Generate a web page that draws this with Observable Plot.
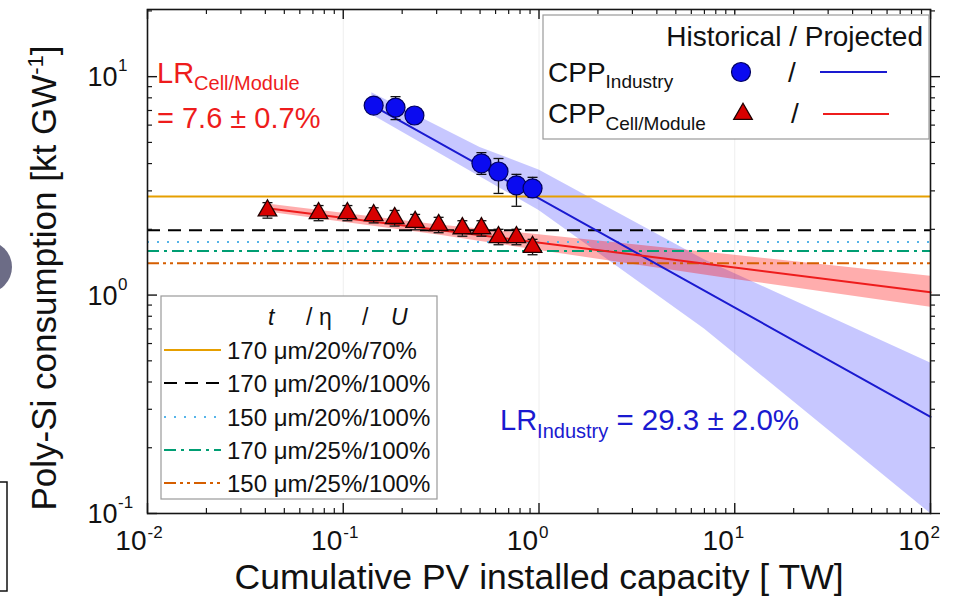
<!DOCTYPE html>
<html>
<head>
<meta charset="utf-8">
<script src="https://cdn.jsdelivr.net/npm/d3@7"></script>
<script src="https://cdn.jsdelivr.net/npm/@observablehq/plot@0.6"></script>
<style>
  html, body { margin: 0; padding: 0; background: #fff; }
  #chart { position: relative; width: 953px; height: 597px; overflow: hidden; background: #fff; }
  #chart svg { display: block; }
</style>
</head>
<body>
<div id="chart"></div>
<script>
// ---------------- DATA ----------------
// Historical CPP, industry (blue circles)
const industryX        = [0.143, 0.185, 0.231, 0.508, 0.621, 0.767, 0.927];
const industryY        = [7.37, 7.22, 6.64, 4.01, 3.68, 3.18, 3.08];
const industryErrLow   = [null, 6.36, null, 3.57, 2.92, 2.55, 2.80];
const industryErrHigh  = [null, 8.10, null, 4.49, 4.22, 3.57, 3.46];

// Historical CPP, cell/module (red triangles)
const cellX       = [0.041, 0.0748, 0.105, 0.143, 0.183, 0.233, 0.307, 0.406, 0.508, 0.621, 0.767, 0.927];
const cellY       = [2.44, 2.37, 2.37, 2.32, 2.25, 2.16, 2.09, 2.02, 2.02, 1.84, 1.84, 1.66];
const cellErrLow  = [2.25, 2.19, 2.19, 2.14, 2.07, 1.99, 1.93, 1.86, 1.86, 1.70, 1.70, 1.53];
const cellErrHigh = [2.65, 2.57, 2.57, 2.51, 2.44, 2.34, 2.27, 2.19, 2.19, 2.00, 2.00, 1.80];

// Projected fits (straight lines in log-log: two end points each)
const industryFitX = [0.14, 100];
const industryFitY = [7.4, 0.277];
const cellFitX     = [0.041, 100];
const cellFitY     = [2.5, 1.03];

// Confidence bands
const industryBandX    = [0.14, 0.5, 1, 7, 100];
const industryBandLow  = [6.7, 3.48, 2.44, 0.70, 0.1];
const industryBandHigh = [8.45, 4.74, 3.74, 1.45, 0.489];
const cellBandX    = [0.041, 0.3, 1, 10, 100];
const cellBandLow  = [2.40, 1.89, 1.60, 1.18, 0.88];
const cellBandHigh = [2.61, 2.10, 1.89, 1.52, 1.22];

// Scenario reference levels (t / eta / U)
const scenarioLabels = ["170 \u03bcm/20%/70%", "170 \u03bcm/20%/100%", "150 \u03bcm/20%/100%", "170 \u03bcm/25%/100%", "150 \u03bcm/25%/100%"];
const scenarioValues = [2.83, 1.98, 1.75, 1.59, 1.40];

// Axis ticks
const xMajorTicks = [0.01, 0.1, 1, 10, 100];
const xTickExponents = ["-2", "-1", "0", "1", "2"];
const yMajorTicks = [0.1, 1, 10];
const yTickExponents = ["-1", "0", "1"];

// Text
const xTitle = "Cumulative PV installed capacity [ TW]";
const yTitle = "Poly-Si consumption [kt GW";
const lrCellText = "= 7.6 \u00b1 0.7%";
const lrIndustryText = "= 29.3 \u00b1 2.0%";

// ---------------- STYLES ----------------
const FONT = "'Liberation Sans', Arial, Helvetica, sans-serif";
const scenarioColors = ["#E69F00", "#000000", "#56B4E9", "#009E73", "#D55E00"];
const scenarioDashes = [null, "13,8", "2,8", "12,5,3,5", "12,4,3,4,3,4"];
const BLUE = "#1a1ad0", RED = "#ee1c1c";

// ---------------- BUILD ----------------
const W = 953, H = 597, mL = 147, mR = 23, mT = 9, mB = 84;
const innerW = W - mL - mR, innerH = H - mT - mB;

const xMinorTicks = [];
for (const d of [0.01, 0.1, 1, 10]) for (let k = 2; k <= 9; k++) xMinorTicks.push(k * d);
const yMinorTicks = [];
for (const d of [0.1, 1, 10]) for (let k = 2; k <= 9; k++) if (k * d <= 20) yMinorTicks.push(k * d);

const industry = industryX.map((x, i) => ({x, y: industryY[i], lo: industryErrLow[i], hi: industryErrHigh[i]}));
const industryErr = industry.filter(d => d.lo != null);
const cell = cellX.map((x, i) => ({x, y: cellY[i], lo: cellErrLow[i], hi: cellErrHigh[i]}));
const industryFit = industryFitX.map((x, i) => ({x, y: industryFitY[i]}));
const cellFit = cellFitX.map((x, i) => ({x, y: cellFitY[i]}));
const industryBand = industryBandX.map((x, i) => ({x, lo: industryBandLow[i], hi: industryBandHigh[i]}));
const cellBand = cellBandX.map((x, i) => ({x, lo: cellBandLow[i], hi: cellBandHigh[i]}));

const capSymbol = {
  draw(ctx, size) {
    const w = Math.sqrt(size / Math.PI);
    ctx.moveTo(-w, 0); ctx.lineTo(w, 0);
  }
};

const TICK = "#151515";
const chart = Plot.plot({
  width: W, height: H,
  marginLeft: mL, marginRight: mR, marginTop: mT, marginBottom: mB,
  x: {type: "log", domain: [0.01, 100], axis: null},
  y: {type: "log", domain: [0.1, 20.3], axis: null},
  style: {fontFamily: FONT, background: "#fff", color: "#111", overflow: "visible"},
  marks: [
    Plot.ruleX([0.1, 1, 10], {stroke: "#eeeeee", strokeWidth: 1}),
    Plot.areaY(industryBand, {x: "x", y1: "lo", y2: "hi", fill: "#0000ff", fillOpacity: 0.22}),
    Plot.areaY(cellBand, {x: "x", y1: "lo", y2: "hi", fill: "#ff0000", fillOpacity: 0.32}),
    ...scenarioValues.map((v, i) => Plot.ruleY([v], {
      stroke: scenarioColors[i], strokeWidth: 2, strokeDasharray: scenarioDashes[i]
    })),
    Plot.line(industryFit, {x: "x", y: "y", stroke: BLUE, strokeWidth: 2}),
    Plot.line(cellFit, {x: "x", y: "y", stroke: RED, strokeWidth: 2}),
    // error bars
    Plot.ruleX(industryErr, {x: "x", y1: "lo", y2: "hi", stroke: "#111", strokeWidth: 1.3}),
    Plot.dot(industryErr, {x: "x", y: "lo", symbol: capSymbol, r: 5, stroke: "#111", strokeWidth: 1.3, fill: "none"}),
    Plot.dot(industryErr, {x: "x", y: "hi", symbol: capSymbol, r: 5, stroke: "#111", strokeWidth: 1.3, fill: "none"}),
    Plot.ruleX(cell, {x: "x", y1: "lo", y2: "hi", stroke: "#111", strokeWidth: 1.3}),
    Plot.dot(cell, {x: "x", y: "lo", symbol: capSymbol, r: 5, stroke: "#111", strokeWidth: 1.3, fill: "none"}),
    Plot.dot(cell, {x: "x", y: "hi", symbol: capSymbol, r: 5, stroke: "#111", strokeWidth: 1.3, fill: "none"}),
    // markers
    Plot.dot(industry, {x: "x", y: "y", r: 9.5, fill: "#0b0bf0", stroke: "#000060", strokeWidth: 1.2}),
    Plot.dot(cell, {x: "x", y: "y", symbol: "triangle", r: 6.9, fill: "#d80000", stroke: "#200000", strokeWidth: 1.3}),
    // frame and ticks
    Plot.frame({stroke: TICK, strokeWidth: 1.6}),
    Plot.tickX(xMajorTicks, {x: d => d, insetTop: innerH - 10, stroke: TICK, strokeWidth: 1.4}),
    Plot.tickX(xMinorTicks, {x: d => d, insetTop: innerH - 5, stroke: TICK, strokeWidth: 1.2}),
    Plot.tickX(xMajorTicks, {x: d => d, insetBottom: innerH - 10, stroke: TICK, strokeWidth: 1.4}),
    Plot.tickX(xMinorTicks, {x: d => d, insetBottom: innerH - 5, stroke: TICK, strokeWidth: 1.2}),
    Plot.tickY(yMajorTicks, {y: d => d, insetRight: innerW - 10, stroke: TICK, strokeWidth: 1.4}),
    Plot.tickY(yMinorTicks, {y: d => d, insetRight: innerW - 5, stroke: TICK, strokeWidth: 1.2}),
    Plot.tickY(yMajorTicks, {y: d => d, insetLeft: innerW, insetRight: -10, stroke: TICK, strokeWidth: 1.4}),
    Plot.tickY(yMinorTicks, {y: d => d, insetLeft: innerW, insetRight: -5, stroke: TICK, strokeWidth: 1.2}),
    // tick labels
    Plot.text(xMajorTicks, {x: d => d, text: () => "10", frameAnchor: "bottom", textAnchor: "end", dx: -1, dy: 36, fontSize: 28, fill: "#111"}),
    Plot.text(xMajorTicks, {x: d => d, text: (d, i) => xTickExponents[i], frameAnchor: "bottom", textAnchor: "start", dx: 0, dy: 24, fontSize: 17, fill: "#111"}),
    Plot.text(yMajorTicks, {y: d => d, text: () => "10", frameAnchor: "left", textAnchor: "start", dx: -60, dy: 1, fontSize: 27, fill: "#111"}),
    Plot.text(yMajorTicks, {y: d => d, text: (d, i) => yTickExponents[i], frameAnchor: "left", textAnchor: "start", dx: -29.5, dy: -11, fontSize: 17, fill: "#111"})
  ]
});
document.getElementById("chart").appendChild(chart);

// ---------------- OVERLAYS: titles, annotations, legends ----------------
const svg = d3.select(chart);
const g = svg.append("g").attr("font-family", FONT);

function rich(parent, x, y, parts, opts = {}) {
  const t = parent.append("text").attr("x", x).attr("y", y)
    .attr("fill", opts.fill || "#111").attr("text-anchor", opts.anchor || "start");
  if (opts.transform) t.attr("transform", opts.transform);
  let shift = 0;
  for (const p of parts) {
    const ts = t.append("tspan").text(p.text).attr("font-size", p.size);
    const want = p.shift || 0;
    if (want !== shift) { ts.attr("dy", want - shift); shift = want; }
    if (p.italic) ts.attr("font-style", "italic");
  }
  return t;
}

// axis titles
rich(g, 539, 589, [{text: xTitle, size: 35.5}], {anchor: "middle"});
rich(g, 0, 0, [
  {text: yTitle, size: 35},
  {text: "-1", size: 22, shift: -13},
  {text: "]", size: 35, shift: 0}
], {anchor: "middle", transform: "translate(56,278) rotate(-90)"});

// learning-rate annotations
rich(g, 157, 83, [
  {text: "LR", size: 29},
  {text: "Cell/Module", size: 20, shift: 7}
], {fill: RED});
rich(g, 157, 128, [{text: lrCellText, size: 29}], {fill: RED});
rich(g, 500, 430, [
  {text: "LR", size: 29},
  {text: "Industry", size: 20, shift: 8},
  {text: " " + lrIndustryText, size: 29.5, shift: 0}
], {fill: BLUE});

// top-right legend
const lg1 = g.append("g");
lg1.append("rect").attr("x", 543).attr("y", 15).attr("width", 386).attr("height", 124)
  .attr("fill", "#fff").attr("stroke", "#9a9a9a").attr("stroke-width", 1.2);
rich(lg1, 923, 46, [{text: "Historical / Projected", size: 28}], {anchor: "end"});
rich(lg1, 548, 82, [{text: "CPP", size: 28}, {text: "Industry", size: 19, shift: 6}]);
rich(lg1, 548, 123, [{text: "CPP", size: 28}, {text: "Cell/Module", size: 19, shift: 7}]);
lg1.append("circle").attr("cx", 741).attr("cy", 72).attr("r", 9.5)
  .attr("fill", "#0b0bf0").attr("stroke", "#000060").attr("stroke-width", 1.2);
lg1.append("path").attr("d", d3.symbol(d3.symbolTriangle, Math.PI * 6.9 * 6.9)())
  .attr("transform", "translate(743,114)")
  .attr("fill", "#d80000").attr("stroke", "#200000").attr("stroke-width", 1.3);
rich(lg1, 792, 82, [{text: "/", size: 28}], {anchor: "middle"});
rich(lg1, 795, 123, [{text: "/", size: 28}], {anchor: "middle"});
lg1.append("line").attr("x1", 820).attr("x2", 887).attr("y1", 72).attr("y2", 72)
  .attr("stroke", BLUE).attr("stroke-width", 2);
lg1.append("line").attr("x1", 823).attr("x2", 889).attr("y1", 114).attr("y2", 114)
  .attr("stroke", RED).attr("stroke-width", 2);

// bottom-left legend
const lg2 = g.append("g");
lg2.append("rect").attr("x", 161).attr("y", 296).attr("width", 276).attr("height", 203)
  .attr("fill", "#fff").attr("stroke", "#9a9a9a").attr("stroke-width", 1.2);
rich(lg2, 268, 325, [{text: "t", size: 23, italic: true}]);
rich(lg2, 306, 325, [{text: "/", size: 23}]);
rich(lg2, 319, 325, [{text: "\u03b7", size: 23}]);
rich(lg2, 362, 325, [{text: "/", size: 23}]);
rich(lg2, 391, 325, [{text: "U", size: 23, italic: true}]);
const rowY = [350, 383, 417, 450, 483];
scenarioLabels.forEach((lab, i) => {
  const ln = lg2.append("line").attr("x1", 164).attr("x2", 221).attr("y1", rowY[i]).attr("y2", rowY[i])
    .attr("stroke", scenarioColors[i]).attr("stroke-width", 2);
  if (scenarioDashes[i]) ln.attr("stroke-dasharray", scenarioDashes[i]);
  rich(lg2, 227, rowY[i] + 8.5, [{text: lab, size: 24}]);
});

// cropped neighbouring-figure remnants at the left edge
g.append("circle").attr("cx", -14).attr("cy", 267).attr("r", 26).attr("fill", "#6c6c86");
g.append("rect").attr("x", -20).attr("y", 482).attr("width", 27).attr("height", 109)
  .attr("fill", "none").attr("stroke", "#111").attr("stroke-width", 1.5);
</script>
</body>
</html>
